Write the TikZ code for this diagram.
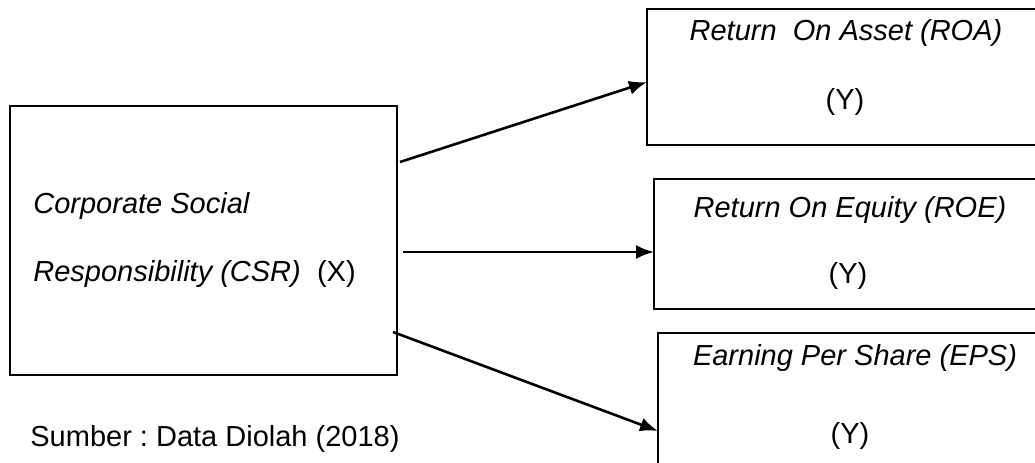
\documentclass[tikz,border=0pt]{standalone}
\usepackage{fontspec}
\setmainfont{Liberation Sans}
\usetikzlibrary{arrows.meta}
\frenchspacing

\begin{document}
\begin{tikzpicture}[x=0.5pt, y=-0.5pt, auto=center,
	every node/.style={font=\fontsize{14.5}{17}\selectfont, inner sep=0pt},
	box/.style={draw, line width=0.9pt, outer sep=0pt},
	arr/.style={-{Latex[length=9pt,width=7pt]}, line width=1.3pt}]
			\useasboundingbox (0,0) rectangle (1035,462);
			\clip (0,0) rectangle (1035,462);
			\node[box, minimum width=193.5pt, minimum height=134.5pt](csr) at (203.5, 240.5) {};
			\node[box, minimum width=199pt, minimum height=68pt](roa) at (846, 77) {};
			\node[box, minimum width=195.5pt, minimum height=65pt](roe) at (849.5, 244) {};
			\node[box, minimum width=193.5pt, minimum height=73.5pt](eps) at (851.5, 406.5) {};
			\node[anchor=base west](csr1) at (33, 213) {\textit{Corporate Social}};
			\node[anchor=base west](csr2) at (33, 281) {\textit{Responsibility (CSR)}\ \ (X)};
			\node[anchor=base](roa1) at (846, 40) {\textit{Return\ \ On Asset (ROA)}};
			\node[anchor=base](roa2) at (845, 109) {(Y)};
			\node[anchor=base](roe1) at (850, 217) {\textit{Return On Equity (ROE)}};
			\node[anchor=base](roe2) at (848, 283) {(Y)};
			\node[anchor=base](eps1) at (855, 365) {\textit{Earning Per Share (EPS)}};
			\node[anchor=base](eps2) at (850, 443) {(Y)};
			\node[anchor=base west](src) at (30, 446) {Sumber : Data Diolah (2018)};
			\coordinate(s1) at (400, 162);
			\coordinate(s2) at (403, 252);
			\coordinate(s3) at (393, 332);
			\draw[arr](s1) -- ([yshift=-2.5pt]roa.west);
			\draw[arr](s2) -- ([yshift=-4pt]roe.west);
			\draw[arr](s3) -- (eps.west |- 0,431);
		\end{tikzpicture}
\end{document}
